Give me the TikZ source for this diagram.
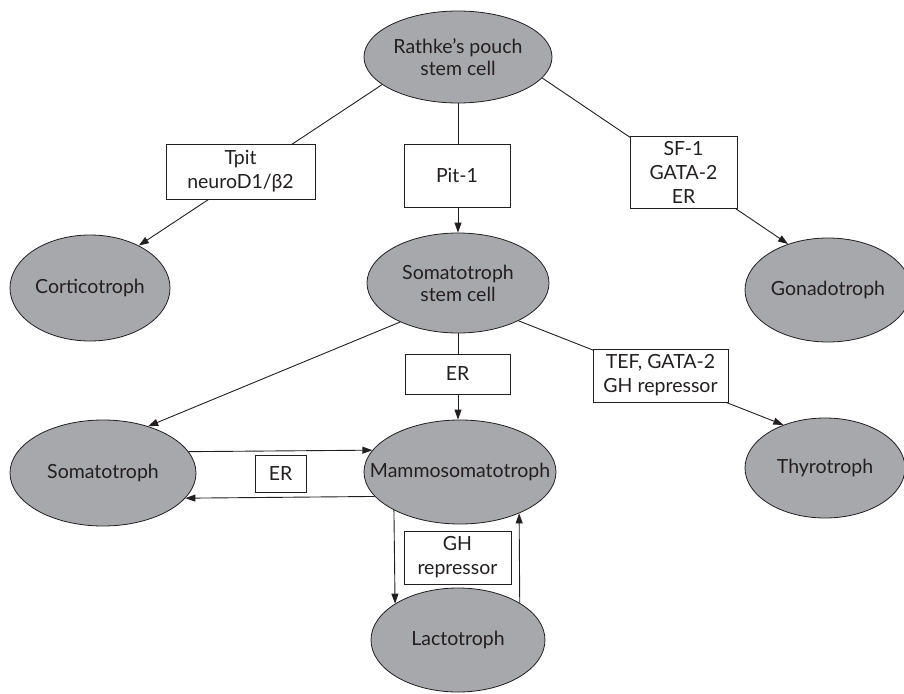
\documentclass[tikz,border=0pt]{standalone}
\usepackage{fontspec}
\setmainfont{Lato}
\usetikzlibrary{arrows.meta,shapes.geometric}
\definecolor{cellgray}{HTML}{A7A8AB}
\definecolor{ink}{HTML}{231F20}
\begin{document}
\begin{tikzpicture}[x=1pt,y=-1pt,
  cell/.style={ellipse, draw=ink, line width=0.8pt, fill=cellgray, inner xsep=-40pt, inner ysep=0pt, text=ink, align=center, font=\fontsize{19.5}{22}\selectfont},
  factor/.style={rectangle, draw=ink, line width=0.9pt, fill=white, inner sep=0pt, text=ink, align=center, font=\fontsize{19.5}{24}\selectfont},
  conn/.style={draw=ink, line width=0.9pt},
  arr/.style={conn, -{Triangle[length=10pt,width=7pt]}}]
\useasboundingbox (0,0) rectangle (904,693);
% cells
\node[cell, minimum width=188pt, minimum height=92pt] (rathke) at (458,57) {Rathke's pouch\\stem cell};
\node[cell, minimum width=160pt, minimum height=106pt] (cort) at (90,288) {Corticotroph};
\node[cell, minimum width=182pt, minimum height=100pt] (stem) at (458,283) {Somatotroph\\stem cell};
\node[cell, minimum width=166pt, minimum height=104pt] (gonad) at (828,290) {Gonadotroph};
\node[cell, minimum width=186pt, minimum height=106pt] (soma) at (103,473) {Somatotroph};
\node[cell, minimum width=192pt, minimum height=104pt] (mammo) at (460,472) {Mammosomatotroph};
\node[cell, minimum width=160pt, minimum height=100pt] (thyro) at (825,468) {Thyrotroph};
\node[cell, minimum width=174pt, minimum height=104pt] (lacto) at (458,640) {Lactotroph};
% connectors
\draw[arr] (rathke.200) -- (cort.41);
\draw[arr] (rathke.south) -- (stem.north);
\draw[arr] (rathke.346) -- (gonad.131);
\draw[arr] (stem.214) -- (soma.46);
\draw[arr] (stem.south) -- (stem.south |- mammo.north);
\draw[arr] (stem.328) -- (thyro.134);
\draw[arr] (soma.14.6) -- (mammo.166.4);
\draw[arr] (mammo.196.7) -- (soma.343.9);
\draw[arr] (mammo.210.2) -- (lacto.150.3);
\draw[arr] (lacto.31.3) -- (mammo.325.3);
% factor boxes
\node[factor, minimum width=149pt, minimum height=55pt] (tpit) at (240.5,171.5) {Tpit\\neuroD1/β2};
\node[factor, minimum width=106pt, minimum height=63pt] (pit) at (457,175.5) {Pit-1};
\node[factor, minimum width=107pt, minimum height=72pt] (sf) at (683.5,172) {SF-1\\GATA-2\\ER};
\node[factor, minimum width=105pt, minimum height=40pt] (erone) at (457.5,374) {ER};
\node[factor, minimum width=135pt, minimum height=53pt] (tef) at (660.5,375.5) {TEF, GATA-2\\GH repressor};
\node[factor, minimum width=51pt, minimum height=37pt] (ertwo) at (280.5,473.5) {ER};
\node[factor, minimum width=107pt, minimum height=53pt] (gh) at (457.5,557.5) {GH\\repressor};
\end{tikzpicture}
\end{document}
